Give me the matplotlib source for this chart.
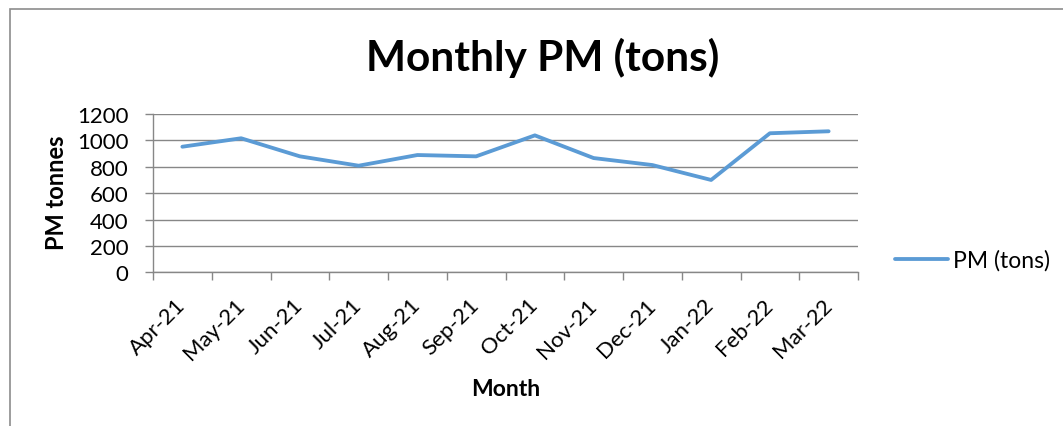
import matplotlib
matplotlib.use("Agg")
import matplotlib.pyplot as plt
from matplotlib.patches import Rectangle
import numpy as np

months = ["Apr-21", "May-21", "Jun-21", "Jul-21", "Aug-21", "Sep-21",
          "Oct-21", "Nov-21", "Dec-21", "Jan-22", "Feb-22", "Mar-22"]
pm_tons = [952, 1016, 879, 808, 889, 879, 1038, 866, 813, 700, 1054, 1069]
y_ticks = [0, 200, 400, 600, 800, 1000, 1200]

W, H = 1063, 427
plt.rcParams['font.family'] = ['Lato', 'DejaVu Sans']
fig = plt.figure(figsize=(W / 100, H / 100), dpi=100)
fig.patch.set_facecolor('white')

# outer chart border
fig.add_artist(Rectangle((10 / W, -0.05), 1.1, 1 - 9.5 / H + 0.05,
                         transform=fig.transFigure, fill=False,
                         edgecolor='#8c8c8c', linewidth=1.2))

ax = fig.add_axes([153 / W, 1 - 273.3 / H, 705 / W, 158.3 / H])
n = len(months)
x = np.arange(n) + 0.5
ax.plot(x, pm_tons, color='#5B9BD5', linewidth=2.75, label='PM (tons)',
        solid_capstyle='round', zorder=3)

ax.set_xlim(0, n)
ax.set_ylim(0, 1200)
ax.set_yticks(y_ticks)
ax.set_yticklabels([str(v) for v in y_ticks])
ax.yaxis.grid(True, color='#878787', linewidth=1.0)
ax.set_axisbelow(True)

ax.set_xticks(np.arange(n + 1))
ax.set_xticklabels([])
ax.set_xticks(x, minor=True)
ax.set_xticklabels(months, minor=True)
ax.tick_params(axis='x', which='major', direction='out', length=5.5,
               color='#878787', width=1.0)
ax.tick_params(axis='x', which='minor', length=0, pad=21, labelsize=16)
for lbl in ax.get_xticklabels(minor=True):
    lbl.set_rotation(45)
    lbl.set_ha('right')
    lbl.set_va('center')
    lbl.set_rotation_mode('anchor')

ax.tick_params(axis='y', direction='out', length=5.5, color='#878787',
               width=1.0, pad=12, labelsize=16)

for s in ['top', 'right']:
    ax.spines[s].set_visible(False)
for s in ['left', 'bottom']:
    ax.spines[s].set_color('#878787')
    ax.spines[s].set_linewidth(1.0)

fig.text(543 / W, 1 - 58 / H, 'Monthly PM (tons)', fontsize=30.5,
         fontweight='bold', ha='center', va='center')
fig.text(57 / W, 1 - 193 / H, 'PM tonnes', fontsize=17, fontweight='bold',
         rotation=90, ha='center', va='center')
fig.text(506 / W, 1 - 390 / H, 'Month', fontsize=16.5, fontweight='bold',
         ha='center', va='center')

ax.legend(loc='center left', bbox_to_anchor=(895 / W, 1 - 261 / H),
          bbox_transform=fig.transFigure, frameon=False, borderpad=0,
          borderaxespad=0, handlelength=2.3, handletextpad=0.25,
          fontsize=16.5)

fig.savefig('out.png', dpi=100, facecolor='white')
